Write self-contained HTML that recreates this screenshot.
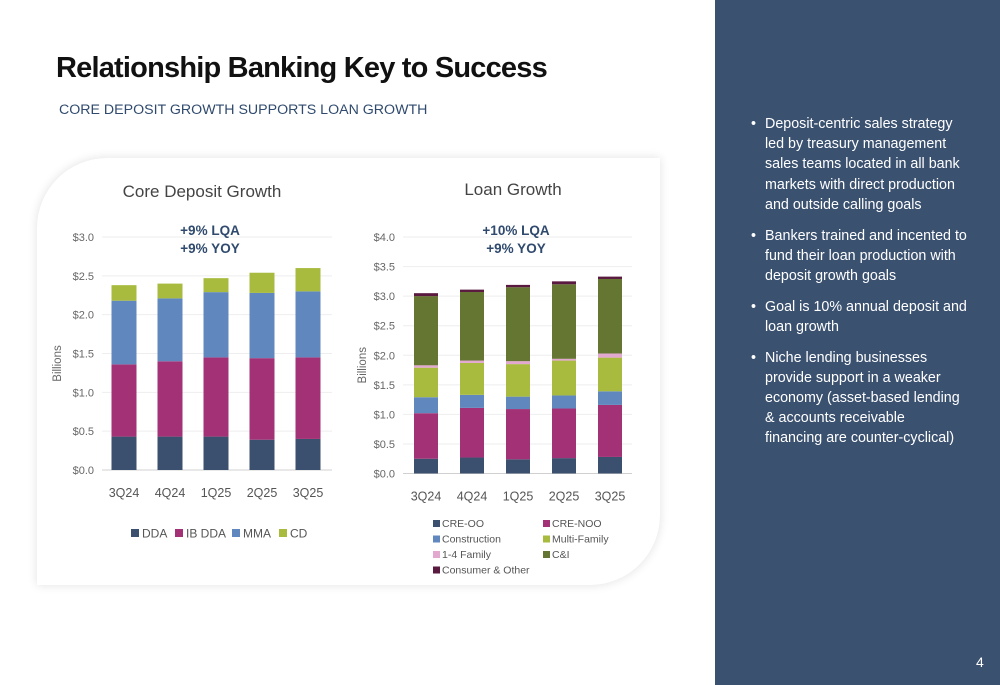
<!DOCTYPE html>
<html><head><meta charset="utf-8">
<style>
body{margin:0;width:1000px;height:685px;overflow:hidden;background:#fff;font-family:"Liberation Sans",sans-serif;position:relative}
#title{position:absolute;left:56px;top:52px;font-size:29px;font-weight:bold;color:#111;letter-spacing:-0.8px;margin:0;white-space:nowrap}
#sub{position:absolute;left:59px;top:102px;font-size:14.2px;color:#2f4a6e;margin:0;white-space:nowrap}
#side{position:absolute;left:715px;top:0;width:285px;height:685px;background:#3b5170;color:#fff}
#side ul{margin:0;padding:0;list-style:none;position:absolute;left:36px;top:114px;width:245px}
#side li{font-size:14.3px;line-height:20.2px;padding-left:14px;position:relative;margin-bottom:10.5px;white-space:nowrap}
#side li:before{content:"•";position:absolute;left:0;top:0}
#pg{position:absolute;left:261px;top:654px;font-size:14px;color:#fff}
#card{position:absolute;left:37px;top:158px;width:623px;height:427px;background:#fff;border-radius:70px 0 70px 0;box-shadow:0 0 10px rgba(0,0,0,0.12)}
svg{position:absolute;left:0;top:0}
</style></head><body>
<h1 id="title">Relationship Banking Key to Success</h1>
<p id="sub">CORE DEPOSIT GROWTH SUPPORTS LOAN GROWTH</p>
<div id="card"></div>
<svg id="chart" width="715" height="685"></svg>
<div id="side">
<ul>
<li>Deposit-centric sales strategy<br>led by treasury management<br>sales teams located in all bank<br>markets with direct production<br>and outside calling goals</li>
<li>Bankers trained and incented to<br>fund their loan production with<br>deposit growth goals</li>
<li>Goal is 10% annual deposit and<br>loan growth</li>
<li>Niche lending businesses<br>provide support in a weaker<br>economy (asset-based lending<br>&amp; accounts receivable<br>financing are counter-cyclical)</li>
</ul>
<div id="pg">4</div>
</div>
<script>
const categories=["3Q24","4Q24","1Q25","2Q25","3Q25"];
const depNames=["DDA","IB DDA","MMA","CD"];
const depDDA=[0.43,0.43,0.43,0.39,0.40];
const depIBDDA=[0.93,0.97,1.02,1.05,1.05];
const depMMA=[0.82,0.81,0.84,0.84,0.85];
const depCD=[0.20,0.19,0.18,0.26,0.30];
const depTicks=[0,0.5,1.0,1.5,2.0,2.5,3.0];
const loanNames=["CRE-OO","CRE-NOO","Construction","Multi-Family","1-4 Family","C&I","Consumer & Other"];
const loanCREOO=[0.25,0.27,0.24,0.26,0.28];
const loanCRENOO=[0.77,0.84,0.85,0.84,0.88];
const loanConst=[0.27,0.22,0.21,0.22,0.23];
const loanMF=[0.50,0.54,0.55,0.59,0.57];
const loan14=[0.04,0.04,0.05,0.03,0.07];
const loanCI=[1.17,1.16,1.25,1.26,1.26];
const loanCons=[0.05,0.04,0.04,0.05,0.04];
const loanTicks=[0,0.5,1.0,1.5,2.0,2.5,3.0,3.5,4.0];

const NS="http://www.w3.org/2000/svg";
const svg=document.getElementById('chart');
function mk(t,a,txt){const e=document.createElementNS(NS,t);for(const k in a)e.setAttribute(k,a[k]);if(txt!==undefined)e.textContent=txt;svg.appendChild(e);return e;}

function chart(o){
  const y=v=>o.y0-(v/o.max)*(o.y0-o.yTop);
  const x=i=>o.x0+i*o.step;
  o.ticks.forEach(t=>{
    const g=mk('line',{x1:o.gx1,x2:o.gx2,y1:y(t),y2:y(t),stroke:t===0?'#d0d0d0':'#eeeeee','stroke-width':1});
    
    
    const l=mk('text',{x:o.gx1-8,y:y(t)+4,'font-size':11,fill:'#666','text-anchor':'end'},'$'+t.toFixed(1));
    
    
  });
  categories.forEach((c,i)=>{
    let acc=0;
    o.series.forEach((s,j)=>{
      const v=s[i];
      const r=mk('rect',{x:x(i)-o.bw/2,y:y(acc+v),width:o.bw,height:y(acc)-y(acc+v),fill:o.colors[j]});
      
      
      acc+=v;
    });
    const t=mk('text',{x:x(i),y:o.y0+27,'font-size':12.5,fill:'#555','text-anchor':'middle'},c);
    
    
  });
  const yt=mk('text',{x:0,y:0,'font-size':11.5,fill:'#666','text-anchor':'middle',transform:`translate(${o.yl},${(o.y0+o.yTop)/2+10}) rotate(-90)`},'Billions');
  
  
}
const depColors=['#3b4f6e','#a23275','#6088bf','#a8bb3f'];
const loanColors=['#3b4f6e','#a23275','#6088bf','#a8bb3f','#e3a8cf','#657532','#5a1a40'];
chart({id:'dep',y0:470,yTop:237,max:3,x0:124,step:46,bw:25,gx1:102,gx2:332,ticks:depTicks,series:[depDDA,depIBDDA,depMMA,depCD],colors:depColors,yl:61});
chart({id:'loan',y0:473.5,yTop:237,max:4,x0:426,step:46,bw:24,gx1:403,gx2:632,ticks:loanTicks,series:[loanCREOO,loanCRENOO,loanConst,loanMF,loan14,loanCI,loanCons],colors:loanColors,yl:366});

function txt(a,s,n){const e=mk('text',a,s);return e;}
txt({x:202,y:197,'font-size':17,fill:'#444','text-anchor':'middle'},'Core Deposit Growth','deposit-chart-title');
txt({x:513,y:195,'font-size':17,fill:'#444','text-anchor':'middle'},'Loan Growth','loan-chart-title');
txt({x:210,y:235,'font-size':13.5,'font-weight':'bold',fill:'#2f4a6e','text-anchor':'middle'},'+9% LQA','deposit-lqa');
txt({x:210,y:253,'font-size':13.5,'font-weight':'bold',fill:'#2f4a6e','text-anchor':'middle'},'+9%  YOY','deposit-yoy');
txt({x:516,y:235,'font-size':13.5,'font-weight':'bold',fill:'#2f4a6e','text-anchor':'middle'},'+10% LQA','loan-lqa');
txt({x:516,y:253,'font-size':13.5,'font-weight':'bold',fill:'#2f4a6e','text-anchor':'middle'},'+9% YOY','loan-yoy');

const depLegX=[131,175,232,279];
depNames.forEach((n,i)=>{
  const r=mk('rect',{x:depLegX[i],y:529,width:8,height:8,fill:depColors[i]});
  
  
  txt({x:depLegX[i]+11,y:537.5,'font-size':12,fill:'#555'},n,'legend-entry');
});
loanNames.forEach((n,i)=>{
  const lx=i%2===0?433:543, ly=520+Math.floor(i/2)*15.5;
  const r=mk('rect',{x:lx,y:ly,width:7,height:7,fill:loanColors[i]});
  
  
  txt({x:lx+9,y:ly+7,'font-size':10.5,fill:'#555'},n,'legend-entry');
});
</script>
</body></html>
